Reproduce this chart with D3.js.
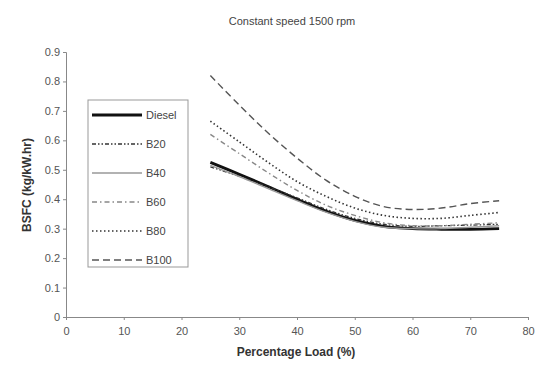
<!DOCTYPE html>
<html><head><meta charset="utf-8">
<script src="https://cdn.jsdelivr.net/npm/d3@7/dist/d3.min.js"></script>
<style>body{margin:0;background:#fff;}svg{display:block;font-family:"Liberation Sans",Arial,sans-serif;}</style>
</head><body><svg id="c" width="536" height="370"></svg>
<script>
const loads = [25,30,35,40,45,50,55,60,65,70,75];
const diesel = [0.525,0.485,0.443,0.40,0.36,0.328,0.308,0.30,0.298,0.298,0.30];
const b20 = [0.51,0.478,0.442,0.405,0.366,0.335,0.315,0.308,0.31,0.312,0.315];
const b40 = [0.515,0.477,0.436,0.395,0.356,0.325,0.305,0.30,0.30,0.305,0.31];
const b60 = [0.62,0.555,0.49,0.43,0.38,0.345,0.32,0.31,0.31,0.315,0.32];
const b80 = [0.665,0.595,0.525,0.46,0.41,0.37,0.345,0.335,0.335,0.345,0.355];
const b100 = [0.82,0.72,0.625,0.54,0.465,0.41,0.375,0.365,0.37,0.385,0.395];
const seriesNames = ["Diesel","B20","B40","B60","B80","B100"];
const xTicks = [0,10,20,30,40,50,60,70,80];
const yTicks = [0,0.1,0.2,0.3,0.4,0.5,0.6,0.7,0.8,0.9];

const styles = {
  "Diesel":{stroke:"#111",w:2.8,dash:null},
  "B20":{stroke:"#333",w:1.3,dash:"4,2,1.5,2,1.5,2"},
  "B40":{stroke:"#999",w:1.4,dash:null},
  "B60":{stroke:"#888",w:1.4,dash:"5,3,1.5,3"},
  "B80":{stroke:"#333",w:1.6,dash:"1.5,2.5"},
  "B100":{stroke:"#555",w:1.4,dash:"7,4"}
};
const data = [diesel,b20,b40,b60,b80,b100];
const series = seriesNames.map((n,i)=>({name:n,values:loads.map((x,j)=>({x,y:data[i][j]}))}));

const svg = d3.select("#c");
const x = d3.scaleLinear().domain([0,80]).range([66,528]);
const y = d3.scaleLinear().domain([0,0.9]).range([317,52]);

const xa = svg.append("g").attr("transform","translate(0,317)")
  .call(d3.axisBottom(x).tickValues(xTicks).tickSize(3).tickFormat(d3.format("d")));
const ya = svg.append("g").attr("transform","translate(66,0)")
  .call(d3.axisLeft(y).tickValues(yTicks).tickSize(3).tickFormat(d=>d===0?"0":d3.format(".1f")(d)));
[xa,ya].forEach(a=>{
  a.select(".domain").attr("stroke","#888");
  a.selectAll(".tick line").attr("stroke","#888");
  a.selectAll(".tick text").attr("fill","#555").style("font-size","11px");
});
xa.selectAll(".tick text").attr("dy","1.1em");

const line = d3.line().x(d=>x(d.x)).y(d=>y(d.y)).curve(d3.curveCatmullRom.alpha(0.5));
svg.append("g").selectAll("path").data(series).join("path")
  .attr("d",d=>line(d.values)).attr("fill","none")
  .attr("stroke",d=>styles[d.name].stroke)
  .attr("stroke-width",d=>styles[d.name].w)
  .attr("stroke-dasharray",d=>styles[d.name].dash);

svg.append("text").attr("x",292).attr("y",25).attr("text-anchor","middle")
  .attr("fill","#444").style("font-size","11px").text("Constant speed 1500 rpm");
svg.append("text").attr("x",296).attr("y",356).attr("text-anchor","middle")
  .attr("fill","#333").style("font-size","12px").style("font-weight","bold").text("Percentage Load (%)");
svg.append("text").attr("transform","translate(31,185) rotate(-90)").attr("text-anchor","middle")
  .attr("fill","#333").style("font-size","12px").style("font-weight","bold").text("BSFC (kg/kW.hr)");

// legend
const lg = svg.append("g");
lg.append("rect").attr("x",88).attr("y",100).attr("width",100).attr("height",167)
  .attr("fill","#fff").attr("stroke","#999").attr("stroke-width",1);
const ly = d3.scalePoint().domain(seriesNames).range([115,260]);
const items = lg.selectAll("g").data(seriesNames).join("g").attr("transform",d=>`translate(0,${ly(d)})`);
items.append("line").attr("x1",92).attr("x2",142).attr("y1",0).attr("y2",0)
  .attr("stroke",d=>styles[d].stroke).attr("stroke-width",d=>styles[d].w)
  .attr("stroke-dasharray",d=>styles[d].dash);
items.append("text").attr("x",146).attr("y",4).attr("fill","#444").style("font-size","11px").text(d=>d);
</script></body></html>
